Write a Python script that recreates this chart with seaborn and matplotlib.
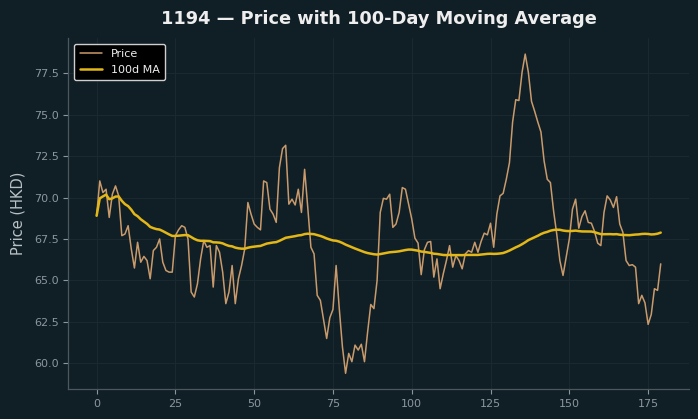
import numpy as np
import pandas as pd
import matplotlib
matplotlib.use("Agg")
import matplotlib.pyplot as plt
import seaborn as sns

title = "1194 \u2014 Price with 100-Day Moving Average"
ylabel = "Price (HKD)"
price_label = "Price"
ma_label = "100d MA"
ma_window = 100

price = [
    68.9, 71.0, 70.3, 70.5, 68.8, 70.2, 70.7, 70.1, 67.7, 67.8,
    68.3, 66.9, 65.75, 67.3, 66.1, 66.45, 66.2, 65.1, 66.8, 67.0,
    67.5, 66.1, 65.6, 65.5, 65.5, 67.7, 68.05, 68.3, 68.2, 67.5,
    64.3, 64.0, 64.8, 66.3, 67.4, 67.0, 67.1, 64.6, 67.1, 66.7,
    65.5, 63.6, 64.3, 65.9, 63.6, 65.1, 65.9, 66.9, 69.7, 69.0,
    68.4, 68.2, 68.05, 71.0, 70.9, 69.3, 69.0, 68.5, 71.8, 72.95,
    73.15, 69.6, 69.9, 69.55, 70.5, 69.1, 71.7, 69.4, 67.0, 66.6,
    64.1, 63.8, 62.65, 61.5, 62.75, 63.25, 65.9, 63.3, 61.0, 59.4,
    60.6, 60.1, 61.1, 60.8, 61.15, 60.1, 61.9, 63.55, 63.3, 65.0,
    69.1, 69.95, 69.9, 70.2, 68.2, 68.4, 69.1, 70.6, 70.5, 69.6,
    68.7, 67.55, 67.25, 65.35, 66.85, 67.3, 67.35, 65.2, 66.3, 64.5,
    65.4, 66.2, 67.1, 65.8, 66.5, 66.2, 65.7, 66.6, 66.8, 66.7,
    67.3, 66.7, 67.35, 67.85, 67.75, 68.45, 67.0, 69.0, 70.1, 70.25,
    71.1, 72.1, 74.55, 75.9, 75.85, 77.55, 78.65, 77.55, 75.8, 75.2,
    74.55, 73.95, 72.2, 71.1, 70.9, 69.2, 67.8, 66.2, 65.3, 66.4,
    67.5, 69.3, 69.9, 68.15, 68.85, 69.2, 68.5, 68.45, 67.95, 67.25,
    67.1, 69.1, 70.1, 69.85, 69.4, 70.05, 68.4, 67.9, 66.2, 65.9,
    65.95, 65.8, 63.6, 64.1, 63.65, 62.35, 62.95, 64.5, 64.4, 66.0,
]
day = list(range(len(price)))

df = pd.DataFrame({"day": day, "price": price})
df["ma"] = df["price"].rolling(ma_window, min_periods=1).mean()

BG = "#101f26"
sns.set_theme(style="darkgrid")
plt.rcParams.update({
    "font.family": ["DejaVu Sans"],
    "figure.facecolor": BG,
    "axes.facecolor": BG,
    "savefig.facecolor": BG,
    "axes.edgecolor": "#4d575c",
    "grid.color": "#1a2930",
    "grid.linewidth": 0.8,
    "xtick.bottom": True,
    "ytick.left": True,
})

fig, ax = plt.subplots(figsize=(6.98, 4.19), dpi=100)
fig.subplots_adjust(left=0.098, right=0.987, top=0.909, bottom=0.071)

sns.lineplot(data=df, x="day", y="price", ax=ax, color="#c99a6b",
             linewidth=1.1, label=price_label)
sns.lineplot(data=df, x="day", y="ma", ax=ax, color="#e3b717",
             linewidth=1.8, label=ma_label)

ax.set_title(title, color="#eeeeee", fontsize=12.8, fontweight="bold", pad=10)
ax.set_xlabel("")
ax.set_ylabel(ylabel, color="#b9c1c5", fontsize=10.5, labelpad=6)
ax.tick_params(axis="both", labelsize=8, length=3.5, width=0.8, colors="#8c979d")
ax.set_xticks([0, 25, 50, 75, 100, 125, 150, 175])
yt = [60.0, 62.5, 65.0, 67.5, 70.0, 72.5, 75.0, 77.5]
ax.set_yticks(yt)
ax.set_yticklabels([f"{v:.1f}" for v in yt])
sns.despine(ax=ax)
for s in ["left", "bottom"]:
    ax.spines[s].set_color("#4d575c")
    ax.spines[s].set_linewidth(0.9)

leg = ax.legend(loc="upper left", fontsize=8, facecolor="#000000",
                edgecolor="#cfcfcf", framealpha=1.0, borderpad=0.5)
for t in leg.get_texts():
    t.set_color("#eeeeee")

fig.savefig("out.png", dpi=100, facecolor=BG)
